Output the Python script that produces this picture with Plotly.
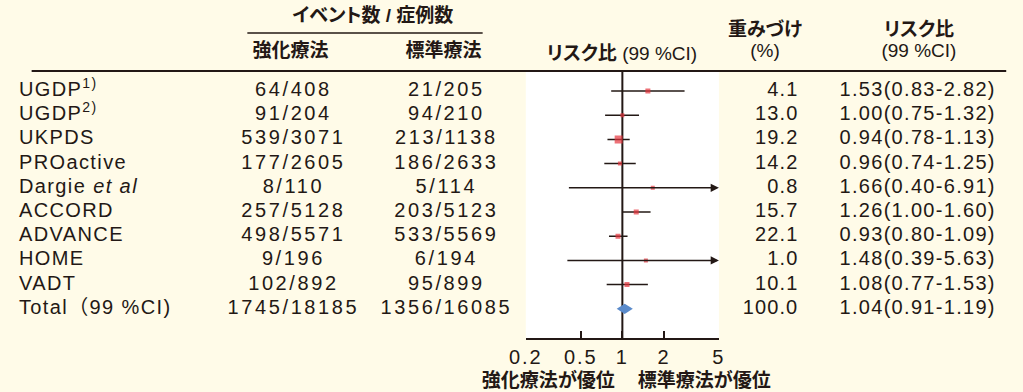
import math
import plotly.graph_objects as go

# ---- trial data -------------------------------------------------------------
studies = ["UGDP<sup>1)</sup>", "UGDP<sup>2)</sup>", "UKPDS", "PROactive",
           "Dargie <i>et al</i>", "ACCORD", "ADVANCE", "HOME", "VADT",
           "Total（99 %CI)"]
int_events = [64, 91, 539, 177, 8, 257, 498, 9, 102, 1745]
int_total = [408, 204, 3071, 2605, 110, 5128, 5571, 196, 892, 18185]
std_events = [21, 94, 213, 186, 5, 203, 533, 6, 95, 1356]
std_total = [205, 210, 1138, 2633, 114, 5123, 5569, 194, 899, 16085]
weights = [4.1, 13.0, 19.2, 14.2, 0.8, 15.7, 22.1, 1.0, 10.1, 100.0]
rr = [1.53, 1.00, 0.94, 0.96, 1.66, 1.26, 0.93, 1.48, 1.08, 1.04]
rr_lo = [0.83, 0.75, 0.78, 0.74, 0.40, 1.00, 0.80, 0.39, 0.77, 0.91]
rr_hi = [2.82, 1.32, 1.13, 1.25, 6.91, 1.60, 1.09, 5.63, 1.53, 1.19]
tick_vals = [0.2, 0.5, 1, 2, 5]
tick_text = ["0.2", "0.5", "1", "2", "5"]

# ---- style ------------------------------------------------------------------
W, H = 1023, 392
INK = "#231815"
RED = "#e5353d"
BLUE = "#5b8bcb"
CREAM = "#fffbe8"
FONT = "Liberation Sans, Arial, Noto Sans CJK JP, sans-serif"
FS = 20          # table / tick text
FS_JP = 19       # Japanese headings
box_px = [5, 4, 8, 4, 4, 5, 5, 4, 5]       # square size per study
diamond_half = 0.21                         # half height of pooled diamond (rows)
x_min, x_max = 0.2, 5.0

n = len(studies)
rows = list(range(n))
is_total = [i == n - 1 for i in rows]
panel_top, panel_bottom = 72, 338
row0, pitch = 91, 24.2


def px_x(v):
    return v / W


def px_y(v):
    return 1 - v / H


fig = go.Figure()

# reference line at RR = 1
fig.add_trace(go.Scatter(x=[1, 1], y=[-2, n + 2], mode="lines",
                         line=dict(color=INK, width=2), hoverinfo="skip"))

# confidence intervals inside the axis range
for i in rows:
    if is_total[i] or rr_hi[i] > x_max:
        continue
    fig.add_trace(go.Scatter(x=[rr_lo[i], rr_hi[i]], y=[i, i], mode="lines",
                             line=dict(color=INK, width=1.5),
                             hoverinfo="skip"))

# point estimates
study_rows = [i for i in rows if not is_total[i]]
fig.add_trace(go.Scatter(
    x=[rr[i] for i in study_rows], y=study_rows, mode="markers",
    marker=dict(symbol="square", color=RED, size=box_px, line=dict(width=0)),
    hoverinfo="skip"))

# pooled estimate diamond
t = n - 1
fig.add_trace(go.Scatter(
    x=[rr_lo[t], rr[t], rr_hi[t], rr[t], rr_lo[t]],
    y=[t, t - diamond_half, t, t + diamond_half, t],
    mode="lines", fill="toself", fillcolor=BLUE, line=dict(width=0, color=BLUE),
    hoverinfo="skip"))


def column(uid, x, texts, position, size=FS):
    """One column of table text, laid out on the full-width pixel axis."""
    return go.Scatter(
        uid=uid, x=[x] * len(texts), y=rows,
        xaxis="x2", yaxis="y", mode="text", text=texts,
        textposition=position, cliponaxis=False, hoverinfo="skip",
        textfont=dict(family=FONT, size=size, color=INK))


# table body, one row per study
fig.add_trace(column("lbl", 5, studies, "middle right"))
fig.add_trace(column("midA", 285,
                     [f"{a}/{b}" for a, b in zip(int_events, int_total)],
                     "middle center"))
fig.add_trace(column("midB", 441,
                     [f"{a}/{b}" for a, b in zip(std_events, std_total)],
                     "middle center"))
fig.add_trace(column("wt", 800, [f"{w:.1f}" for w in weights], "middle left"))
fig.add_trace(column("rr", 842,
                     [f"{r:.2f}({lo:.2f}-{hi:.2f})"
                      for r, lo, hi in zip(rr, rr_lo, rr_hi)],
                     "middle right"))

# headings and axis captions (pixel positions on the full-figure axes)
headings = [
    ("<b>イベント数 / 症例数</b>", 366, 17, FS_JP),
    ("<b>強化療法</b>", 282, 52, FS_JP),
    ("<b>標準療法</b>", 438, 52, FS_JP),
    ("<b>リスク比</b> (99 %CI)", 620, 55, FS_JP),
    ("<b>重みづけ</b>", 766, 31, FS_JP),
    ("(%)", 766, 52, FS_JP),
    ("<b>リスク比</b>", 923, 31, FS_JP),
    ("(99 %CI)", 923, 52, FS_JP),
    ("<b>強化療法が優位</b>", 545, 382, FS_JP),
    ("<b>標準療法が優位</b>", 704, 382, FS_JP),
]
fig.add_trace(go.Scatter(
    uid="hdr", x=[h[1] for h in headings], y=[h[2] for h in headings],
    xaxis="x2", yaxis="y2", mode="text", text=[h[0] for h in headings],
    textposition="middle center", cliponaxis=False, hoverinfo="skip",
    textfont=dict(family=FONT, size=[h[3] for h in headings], color=INK)))

annotations = []
# intervals running past the right end of the axis
for i in rows:
    if not is_total[i] and rr_hi[i] > x_max:
        annotations.append(dict(
            x=math.log10(x_max), y=i, ax=math.log10(rr_lo[i]), ay=i,
            xref="x", yref="y", axref="x", ayref="y", text="",
            showarrow=True, arrowhead=2, arrowsize=1.1, arrowwidth=1.5,
            arrowcolor=INK))

shapes = [
    # white plotting panel
    dict(type="rect", xref="x domain", yref="y domain", x0=0, x1=1, y0=0, y1=1,
         fillcolor="white", line=dict(width=0), layer="below"),
    # rule under the column headings
    dict(type="line", xref="paper", yref="paper", x0=px_x(18), x1=px_x(1012),
         y0=px_y(71), y1=px_y(71), line=dict(color=INK, width=2)),
    # rule under the group heading
    dict(type="line", xref="paper", yref="paper", x0=px_x(238), x1=px_x(478),
         y0=px_y(33), y1=px_y(33), line=dict(color=INK, width=1.5)),
]

fig.update_layout(
    width=W, height=H,
    margin=dict(l=0, r=0, t=0, b=0),
    paper_bgcolor=CREAM, plot_bgcolor="rgba(0,0,0,0)",
    showlegend=False,
    annotations=annotations, shapes=shapes,
    xaxis=dict(
        type="log", domain=[px_x(522), px_x(719)], anchor="y",
        range=[math.log10(x_min) - 1e-4, math.log10(x_max) + 1e-4],
        tickvals=tick_vals, ticktext=tick_text,
        ticks="inside", ticklen=7, tickwidth=2, tickcolor=INK,
        showline=True, linecolor=INK, linewidth=2,
        showgrid=False, zeroline=False,
        tickfont=dict(family=FONT, size=FS, color=INK),
        fixedrange=True,
    ),
    yaxis=dict(
        domain=[px_y(panel_bottom), px_y(panel_top)], anchor="x",
        range=[(panel_bottom - row0) / pitch, -(row0 - panel_top) / pitch],
        visible=False, fixedrange=True,
    ),
    xaxis2=dict(domain=[0, 1], range=[0, W], anchor="y2", visible=False,
                fixedrange=True),
    yaxis2=dict(domain=[0, 1], range=[H, 0], anchor="x2", visible=False,
                fixedrange=True),
)

# letter tracking per text column, proportional kana in the headings
tracking_js = """
var css = [
  '.tracelbl text{letter-spacing:1.4px}',
  '.tracemidA text,.tracemidB text{letter-spacing:2.6px}',
  '.tracewt text{letter-spacing:1.1px}',
  '.tracerr text{letter-spacing:1.3px}',
  '.xtick text{letter-spacing:2px}',
  '.tracehdr text{font-feature-settings:"palt"}'
].join('\\n');
var st = document.createElement('style');
st.textContent = css;
document.head.appendChild(st);
"""

fig.write_html("out.html", post_script=tracking_js,
               config={"displayModeBar": False, "staticPlot": True})
